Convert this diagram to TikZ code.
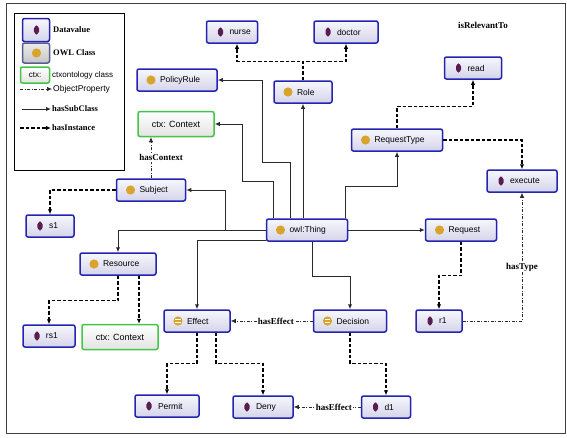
\documentclass[tikz,border=0pt]{standalone}
\usepackage{fontspec}
\setmainfont{Liberation Serif}
\setsansfont{Liberation Sans}
\usetikzlibrary{arrows.meta}

\definecolor{boxblue}{HTML}{2424B0}
\definecolor{boxtop}{HTML}{F7F7FD}
\definecolor{boxbot}{HTML}{D4D4EA}
\definecolor{ctxgreen}{HTML}{45C445}
\definecolor{dvpurple}{HTML}{5A1D50}
\definecolor{clsgold}{HTML}{D8A42E}
\definecolor{linegray}{HTML}{2A2A2A}

\tikzset{
  basenode/.style={rectangle, rounded corners=2pt, draw=boxblue, line width=1.5pt,
    top color=boxtop, bottom color=boxbot, minimum height=22pt, inner xsep=0pt,
    inner ysep=2pt, align=left, font=\sffamily\fontsize{8.5}{10}\selectfont},
  dvnode/.style={basenode, text width=#1, path picture={
    \fill[dvpurple] ([xshift=14pt]path picture bounding box.west)
      +(0pt,5.5pt) -- +(3.6pt,0pt) -- +(0pt,-5.5pt) -- +(-3.6pt,0pt) -- cycle;}},
  clsnode/.style={basenode, text width=#1, path picture={
    \fill[clsgold] ([xshift=14pt]path picture bounding box.west) circle (4.6pt);}},
  eqnode/.style={basenode, text width=#1, path picture={
    \fill[clsgold] ([xshift=14pt]path picture bounding box.west) circle (4.6pt);
    \draw[white, line width=0.8pt] ([xshift=14pt]path picture bounding box.west)
      +(-2.6pt,1.4pt) -- +(2.6pt,1.4pt) +(-2.6pt,-1.4pt) -- +(2.6pt,-1.4pt);}},
  ctxnode/.style={rectangle, rounded corners=2pt, draw=ctxgreen, line width=1.5pt,
    top color=white, bottom color=gray!22, minimum width=#1, minimum height=25pt,
    font=\sffamily\fontsize{9}{10}\selectfont},
  subcl/.style={-{Latex[length=5pt,width=4.5pt]}, draw=linegray, line width=1pt},
  inst/.style={-{Latex[length=5pt,width=4.5pt]}, line width=1.3pt, dash pattern=on 3.5pt off 2pt},
  objprop/.style={-{Latex[length=5pt,width=4.5pt]}, draw=linegray, line width=0.7pt,
    dash pattern=on 3pt off 1.5pt on 1pt off 1.5pt},
  lbl/.style={fill=white, inner sep=1pt, font=\bfseries\fontsize{9}{10}\selectfont},
  lgtxt/.style={anchor=west, inner sep=1pt, font=\bfseries\fontsize{8.5}{10}\selectfont},
  lgsans/.style={anchor=west, inner sep=1pt, font=\sffamily\fontsize{8}{10}\selectfont},
}

\begin{document}
\begin{tikzpicture}[x=1pt, y=-1pt]
  \useasboundingbox (0,0) rectangle (567,437);
  \draw[line width=1pt, draw=black!75] (6,3) rectangle (565,433);

  % legend
  \draw[line width=0.7pt] (14,13) rectangle (124,170);
  \node[dvnode=27pt, minimum height=23pt] (lgdv) at (36,30) {};
  \node[lgtxt] (lgdvtxt) at (52,30) {Datavalue};
  \node[clsnode=27pt, minimum height=20pt, draw=gray!60!boxblue, top color=gray!15,
    bottom color=gray!45] (lgcls) at (36,53) {};
  \node[lgtxt] (lgclstxt) at (52,53) {OWL Class};
  \node[ctxnode=29pt, minimum height=16pt, inner sep=0pt,
    font=\sffamily\fontsize{8}{9}\selectfont] (lgctx) at (35,75) {ctx:};
  \node[lgsans] (lgctxtxt) at (51,75) {ctxontology class};
  \node[lgsans, font=\sffamily\fontsize{8.5}{10}\selectfont] (lgop) at (52,89) {ObjectProperty};
  \node[lgtxt] (lgsub) at (51,109) {hasSubClass};
  \node[lgtxt] (lginst) at (51,128) {hasInstance};
  \coordinate (lgopstart) at (20,89);
  \coordinate (lgsubstart) at (22,109);
  \coordinate (lginststart) at (20,128);
  \draw[objprop] (lgopstart) -- (lgop);
  \draw[subcl] (lgsubstart) -- (lgsub);
  \draw[inst] (lginststart) -- (lginst);

  % datavalues
  \foreach \nm/\x/\y/\w/\txt in {nurse/232/32/51/nurse, doctor/346/32/64/doctor,
      read/473/68/57/read, execute/522/181/70/execute, s1/50/226/48/s1,
      r1/439/321/46/r1, rs1/49/336/52/rs1, permit/167/406/64/Permit,
      deny/263/407/60/Deny, d1/386/407/49/d1}
    \node[dvnode=\w pt] (\nm) at (\x,\y) {\hspace*{23pt}\txt};

  % classes
  \foreach \nm/\x/\y/\w/\txt in {policy/177/80/80/PolicyRule, role/303/92/58/Role,
      reqtype/397/140/91/RequestType, subject/151/190/69/Subject,
      thing/307/230/81/owl:Thing, request/461/230/71/Request,
      resource/118/264/76/Resource}
    \node[clsnode=\w pt] (\nm) at (\x,\y) {\hspace*{23pt}\txt};

  \foreach \nm/\x/\y/\w/\txt in {effect/197/321/66/Effect, decision/350/321/73/Decision}
    \node[eqnode=\w pt] (\nm) at (\x,\y) {\hspace*{23pt}\txt};

  \node[ctxnode=76pt] (ctxtop) at (176,124) {ctx: Context};
  \node[ctxnode=76pt] (ctxbot) at (120,337) {ctx: Context};

  \node[lbl, fill=none] (relto) at (483,25) {isRelevantTo};

  % subclasses
  \draw[subcl] (role.south |- thing.north) -- (role.south);
  \draw[subcl] ([xshift=-17pt]thing.north) |- (262,162) |- (policy);
  \draw[subcl] ([xshift=-34pt]thing.north) |- (242,181) |- (ctxtop);
  \draw[subcl] (thing.west) -- ++(-40,0) |- (subject);
  \draw[subcl] (thing.west) -| (resource);
  \draw[subcl] ([yshift=-10pt]thing.west) -| (effect);
  \draw[subcl] ([xshift=5pt]thing.south) -- ++(0,35) -| (decision);
  \draw[subcl] (thing) -- (request);
  \draw[subcl] ([xshift=-3pt]thing.north east) -- ++(0,-32) -| (reqtype);

  % instances
  \draw[inst] (role.north) -- ++(0,-19) -| ([xshift=5pt]nurse.south);
  \draw[inst] (role.north) -- ++(0,-19) -| (doctor);
  \draw[inst] (reqtype.north) -- ++(0,-22) -| (read);
  \draw[inst] (reqtype.east) -| (execute);
  \draw[inst] (request.south) -- ++(0,34) -| (r1);
  \draw[inst] (subject.west) -| (s1);
  \draw[inst] (resource.south) -- ++(0,25) -| (rs1);
  \draw[inst] ([xshift=21pt]resource.south) -- ([xshift=19pt]ctxbot.north);
  \draw[inst] (effect.south) -- ++(0,31) -| (permit);
  \draw[inst] ([xshift=19pt]effect.south) -- ++(0,31) -| (deny);
  \draw[inst] (decision.south) -- ++(0,31) -| (d1);

  % object properties
  \draw[objprop] (subject.north) -- (subject.north |- ctxtop.south)
    node[lbl, pos=0.5, xshift=10pt] (hasctx) {hasContext};
  \draw[objprop] (r1.east) -| (execute)
    node[lbl, pos=0.71] (hastype) {hasType};
  \draw[objprop] (decision.west) -- (effect.east)
    node[lbl, pos=0.45] (haseff) {hasEffect};
  \draw[objprop] (d1.west) -- (deny.east)
    node[lbl, pos=0.4] (haseffd) {hasEffect};
\end{tikzpicture}
\end{document}
